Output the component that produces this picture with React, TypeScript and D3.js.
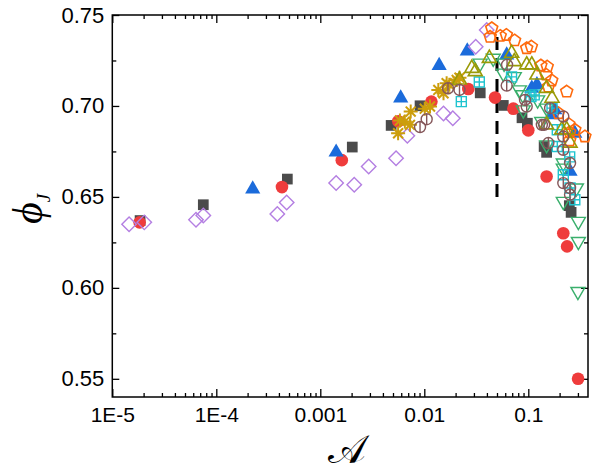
import React, { useEffect, useRef } from 'react';
import * as d3 from 'd3';

type Pt = [number, number];

// Data: [A, phi_J]
const blackSquares: Pt[] = [
  [1.85e-5, 0.637], [7.5e-5, 0.6457], [4.82e-4, 0.6598], [2.03e-3, 0.6774], [4.8e-3, 0.6893],
  [9.1e-3, 0.7001], [0.0345, 0.7072], [0.0575, 0.7003], [0.087, 0.6935], [0.098, 0.6905],
  [0.142, 0.6777], [0.15, 0.6745], [0.248, 0.6452], [0.258, 0.6415],
];
const redCircles: Pt[] = [
  [1.83e-5, 0.636], [4.28e-4, 0.6554], [1.61e-3, 0.6702], [5.62e-3, 0.6916], [0.0117, 0.7024],
  [0.0265, 0.7093], [0.0479, 0.7046], [0.0718, 0.6985], [0.1, 0.6866], [0.15, 0.6612],
  [0.217, 0.63], [0.236, 0.6228], [0.301, 0.55],
];
const blueTriangles: Pt[] = [
  [2.24e-4, 0.6543], [1.42e-3, 0.6746], [5.93e-3, 0.7043], [0.0139, 0.7222], [0.0259, 0.7302],
  [0.062, 0.728], [0.108, 0.7097], [0.121, 0.7116], [0.168, 0.6951], [0.18, 0.6978],
  [0.252, 0.664], [0.28, 0.685],
];
const purpleDiamonds: Pt[] = [
  [1.45e-5, 0.635], [2.03e-5, 0.636], [6.38e-5, 0.6375], [7.5e-5, 0.6398], [3.86e-4, 0.6406],
  [4.75e-4, 0.6469], [1.42e-3, 0.6576], [2.12e-3, 0.6567], [2.92e-3, 0.6667], [5.35e-3, 0.6713],
  [6.87e-3, 0.6836], [0.0153, 0.6958], [0.0188, 0.6933], [0.0312, 0.7326], [0.0398, 0.7418],
];
const orangePentagons: Pt[] = [
  [0.0445, 0.7427], [0.043, 0.738], [0.0537, 0.7385], [0.0615, 0.739], [0.0738, 0.736],
  [0.0965, 0.7317], [0.107, 0.7326], [0.132, 0.7222], [0.152, 0.7216], [0.148, 0.7172],
  [0.168, 0.714], [0.156, 0.7106], [0.234, 0.7079], [0.195, 0.696], [0.245, 0.69],
  [0.25, 0.6855], [0.28, 0.6869], [0.35, 0.6832], [0.25, 0.681],
];
const goldAsterisks: Pt[] = [
  [5.6e-3, 0.685], [5.83e-3, 0.692], [6.5e-3, 0.6914], [7.28e-3, 0.6896], [7.4e-3, 0.6969],
  [0.0101, 0.6985], [0.01135, 0.6997], [0.01364, 0.7088], [0.0153, 0.707], [0.0164, 0.7125],
  [0.0174, 0.7116], [0.0205, 0.7143], [0.0218, 0.7155],
];
const greenDownTriangles: Pt[] = [
  [0.0344, 0.7235], [0.046, 0.7262], [0.0575, 0.718], [0.0585, 0.7235], [0.0733, 0.7161],
  [0.082, 0.7088], [0.0885, 0.7061], [0.0895, 0.6978], [0.123, 0.7033], [0.1346, 0.6914],
  [0.15, 0.6988], [0.15, 0.6786], [0.217, 0.6686], [0.217, 0.6658], [0.217, 0.6475],
  [0.29, 0.6549], [0.303, 0.6365], [0.303, 0.6255], [0.3, 0.598],
];
const cyanSquares: Pt[] = [
  [0.0227, 0.7024], [0.0338, 0.7132], [0.069, 0.716], [0.106, 0.7052], [0.114, 0.7061],
  [0.169, 0.6988], [0.19, 0.6869], [0.19, 0.6777], [0.217, 0.6622], [0.25, 0.672],
  [0.252, 0.6549], [0.28, 0.6484],
];
const oliveTriangles: Pt[] = [
  [0.0218, 0.7143], [0.0286, 0.7207], [0.0309, 0.7189], [0.0422, 0.7262], [0.0692, 0.729],
  [0.0733, 0.7244], [0.0965, 0.7226], [0.108, 0.7226], [0.121, 0.717], [0.15, 0.7097],
  [0.169, 0.7043], [0.15, 0.6896], [0.21, 0.6869], [0.234, 0.6869], [0.252, 0.6796],
];
const brownCircles: Pt[] = [
  [9.1e-3, 0.6884], [0.01054, 0.6927], [0.0169, 0.7097], [0.0218, 0.7088], [0.062, 0.7112],
  [0.0625, 0.7226], [0.093, 0.7033], [0.0965, 0.6997], [0.135, 0.6896], [0.142, 0.6896],
  [0.156, 0.6796], [0.162, 0.6988], [0.217, 0.6942], [0.217, 0.6832], [0.217, 0.6759],
  [0.217, 0.6576], [0.252, 0.6686], [0.252, 0.6549], [0.252, 0.6512],
];

const xMajor = [1e-5, 1e-4, 1e-3, 1e-2, 1e-1];
const xMajorLabels = ['1E-5', '1E-4', '0.001', '0.01', '0.1'];
const yMajor = [0.55, 0.6, 0.65, 0.7, 0.75];
const yMajorLabels = ['0.55', '0.60', '0.65', '0.70', '0.75'];
const yMinor = [0.575, 0.625, 0.675, 0.725];
const dashX = 0.05;
const dashY: [number, number] = [0.65, 0.742];

const App = () => {
  const svgRef = useRef<SVGSVGElement | null>(null);

  useEffect(() => {
    if (!svgRef.current) return;
    const svg = d3.select(svgRef.current);
    svg.selectAll('*').remove();

    const left = 112.3, right = 588, top = 15, bottom = 397;
    const x = d3.scaleLog().domain([1e-5, 0.375]).range([left, right]);
    const y = d3.scaleLinear().domain([0.54, 0.75]).range([bottom, top]);

    // minor log ticks
    const xMinor: number[] = [];
    for (let d = -5; d <= -1; d++) {
      for (let k = 2; k <= 9; k++) {
        const v = k * Math.pow(10, d);
        if (v < 0.375) xMinor.push(v);
      }
    }

    const font = '"Liberation Sans", Arial, sans-serif';
    const styleAxis = (g: any) => {
      g.select('.domain').remove();
      g.selectAll('line').attr('stroke', '#000').attr('stroke-width', 1.3);
      g.selectAll('text').attr('font-family', font).attr('font-size', 21).attr('fill', '#000');
    };

    // bottom
    svg.append('g').attr('transform', `translate(0,${bottom})`)
      .call(d3.axisBottom(x).tickValues(xMajor).tickFormat((_d, i) => xMajorLabels[i]).tickSize(-8).tickPadding(10) as any)
      .call(styleAxis);
    svg.append('g').attr('transform', `translate(0,${bottom})`)
      .call(d3.axisBottom(x).tickValues(xMinor).tickFormat(() => '').tickSize(-4) as any)
      .call(styleAxis);
    // top
    svg.append('g').attr('transform', `translate(0,${top})`)
      .call(d3.axisTop(x).tickValues(xMajor).tickFormat(() => '').tickSize(-8) as any)
      .call(styleAxis);
    svg.append('g').attr('transform', `translate(0,${top})`)
      .call(d3.axisTop(x).tickValues(xMinor).tickFormat(() => '').tickSize(-4) as any)
      .call(styleAxis);
    // left
    svg.append('g').attr('transform', `translate(${left},0)`)
      .call(d3.axisLeft(y).tickValues(yMajor).tickFormat((_d, i) => yMajorLabels[i]).tickSize(-7).tickPadding(8) as any)
      .call(styleAxis)
      .call((g: any) => g.selectAll('text').attr('font-size', 22));
    svg.append('g').attr('transform', `translate(${left},0)`)
      .call(d3.axisLeft(y).tickValues(yMinor).tickFormat(() => '').tickSize(-4) as any)
      .call(styleAxis);
    // right
    svg.append('g').attr('transform', `translate(${right},0)`)
      .call(d3.axisRight(y).tickValues(yMajor).tickFormat(() => '').tickSize(-7) as any)
      .call(styleAxis);
    svg.append('g').attr('transform', `translate(${right},0)`)
      .call(d3.axisRight(y).tickValues(yMinor).tickFormat(() => '').tickSize(-4) as any)
      .call(styleAxis);

    // frame
    svg.append('rect')
      .attr('x', left).attr('y', top)
      .attr('width', right - left).attr('height', bottom - top)
      .attr('fill', 'none').attr('stroke', '#000').attr('stroke-width', 1.5);

    // dashed line
    svg.append('line')
      .attr('x1', x(dashX)).attr('x2', x(dashX))
      .attr('y1', y(dashY[0])).attr('y2', y(dashY[1]))
      .attr('stroke', '#000').attr('stroke-width', 3)
      .attr('stroke-dasharray', '13,8');

    const plot = svg.append('g');

    const pentagon = (r: number) => {
      const pts = d3.range(5).map(i => {
        const a = -Math.PI / 2 + i * 2 * Math.PI / 5;
        return [r * Math.cos(a), r * Math.sin(a)];
      });
      return 'M' + pts.map(p => p.join(',')).join('L') + 'Z';
    };
    const asterisk = (r: number) => d3.range(4).map(i => {
      const a = i * Math.PI / 4;
      const c = r * Math.cos(a), s = r * Math.sin(a);
      return `M${-c},${-s}L${c},${s}`;
    }).join('');
    const boxCross = (h: number) => `M${-h},${-h}H${h}V${h}H${-h}Z M${-h},0H${h} M0,${-h}V${h}`;
    const circleBar = (r: number) =>
      `M${r},0A${r},${r} 0 1,1 ${-r},0A${r},${r} 0 1,1 ${r},0Z M0,${-r}V${r}`;

    const draw = (data: Pt[], path: string, opts: { fill: string; stroke: string; sw: number; rot?: number }) => {
      plot.append('g').selectAll('path')
        .data(data)
        .enter()
        .append('path')
        .attr('d', path)
        .attr('transform', d => `translate(${x(d[0])},${y(d[1])})${opts.rot ? ` rotate(${opts.rot})` : ''}`)
        .attr('fill', opts.fill)
        .attr('stroke', opts.stroke)
        .attr('stroke-width', opts.sw);
    };

    const tri = d3.symbol(d3.symbolTriangle, 100)() as string;
    const triOpen = d3.symbol(d3.symbolTriangle, 85)() as string;

    draw(blackSquares, d3.symbol(d3.symbolSquare, 115)() as string, { fill: '#4b4b4b', stroke: 'none', sw: 0 });
    draw(redCircles, d3.symbol(d3.symbolCircle, 125)() as string, { fill: '#ef3c3c', stroke: 'none', sw: 0 });
    draw(blueTriangles, tri, { fill: '#1b6bdb', stroke: 'none', sw: 0 });
    draw(purpleDiamonds, d3.symbol(d3.symbolSquare, 105)() as string, { fill: 'none', stroke: '#b47fe2', sw: 1.4, rot: 45 });
    draw(orangePentagons, pentagon(6.3), { fill: 'none', stroke: '#ff6a0d', sw: 1.6 });
    draw(goldAsterisks, asterisk(7), { fill: 'none', stroke: '#cc9e0c', sw: 2 });
    draw(greenDownTriangles, triOpen, { fill: 'none', stroke: '#3aaf6c', sw: 1.4, rot: 180 });
    draw(cyanSquares, boxCross(5), { fill: 'none', stroke: '#1fc4cf', sw: 1.4 });
    draw(oliveTriangles, triOpen, { fill: 'none', stroke: '#9a9a06', sw: 1.6 });
    draw(brownCircles, circleBar(5.5), { fill: 'none', stroke: '#85575a', sw: 1.4 });

    // axis titles
    const yt = svg.append('text')
      .attr('transform', 'translate(42,224) rotate(-90)')
      .attr('font-family', '"Liberation Serif", "DejaVu Serif", serif')
      .attr('font-style', 'italic')
      .attr('fill', '#000');
    yt.append('tspan').attr('font-size', 42).text('ϕ');
    yt.append('tspan').attr('font-size', 19).attr('dy', 8).text('J');

    svg.append('text')
      .attr('x', 347).attr('y', 463)
      .attr('text-anchor', 'middle')
      .attr('font-family', '"DejaVu Serif", "DejaVu Sans", "Noto Sans", serif')
      .attr('font-size', 40)
      .attr('fill', '#000')
      .text('𝒜');
  }, []);

  return (
    <svg ref={svgRef} width={603} height={471}
      style={{ position: 'absolute', left: 0, top: 0, background: '#fff' }} />
  );
};

export default App;
